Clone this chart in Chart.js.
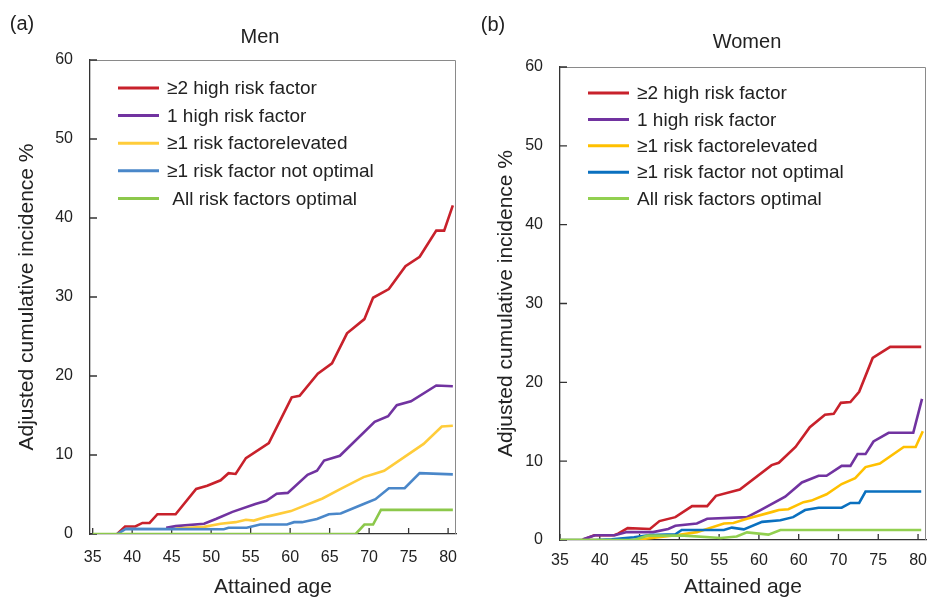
<!DOCTYPE html>
<html>
<head>
<meta charset="utf-8">
<script src="https://cdn.jsdelivr.net/npm/chart.js@4.4.1/dist/chart.umd.min.js"></script>
<style>
  body { margin: 0; background: #fff; }
  .panel { position: absolute; top: 0; width: 464px; height: 600px; }
  #men { left: 0; }
  #women { left: 464px; }
</style>
</head>
<body>
<div class="panel" id="men"><canvas id="menChart"></canvas></div>
<div class="panel" id="women"><canvas id="womenChart"></canvas></div>
<script>
// legend labels (men's last label has a leading space in the original)
const menLabels = ['≥2 high risk factor', '1 high risk factor', '≥1 risk factorelevated', '≥1 risk factor not optimal', ' All risk factors optimal'];
const womenLabels = ['≥2 high risk factor', '1 high risk factor', '≥1 risk factorelevated', '≥1 risk factor not optimal', 'All risk factors optimal'];

const xTicks = [35, 40, 45, 50, 55, 60, 65, 70, 75, 80];
const menXLabels = ['35', '40', '45', '50', '55', '60', '65', '70', '75', '80'];
const womenXLabels = ['35', '40', '45', '50', '55', '60', '60', '70', '75', '80'];
const yTicks = [0, 10, 20, 30, 40, 50, 60];

// [attained age, adjusted cumulative incidence %]
const men2High = [[38.1,0],[39.1,0.95],[40.4,0.95],[41.3,1.4],[42.2,1.4],[43.2,2.5],[45.5,2.5],[48.1,5.7],[49.5,6.1],[51.2,6.8],[52.2,7.7],[53.1,7.6],[54.4,9.6],[57.3,11.5],[60.2,17.3],[61.2,17.5],[63.5,20.3],[65.3,21.6],[67.2,25.4],[69.4,27.2],[70.5,29.9],[72.5,31.0],[74.6,33.9],[76.4,35.1],[78.5,38.4],[79.5,38.4],[80.6,41.6]];
const men1High = [[44.3,0.8],[45.5,1.0],[49.1,1.3],[50.6,1.9],[52.7,2.8],[55.6,3.8],[57.0,4.2],[58.3,5.1],[59.7,5.2],[62.2,7.5],[63.4,8.0],[64.3,9.3],[66.3,9.9],[70.7,14.2],[72.4,14.9],[73.5,16.3],[75.3,16.8],[78.5,18.8],[80.6,18.7]];
const menElevated = [[45.5,0.7],[49.1,0.9],[51.2,1.3],[53.1,1.5],[54.4,1.8],[55.4,1.7],[57.1,2.2],[60.1,2.9],[64.1,4.5],[66.4,5.7],[69.3,7.2],[70.6,7.6],[71.9,8.0],[76.9,11.4],[79.2,13.6],[80.6,13.7]];
const menNotOptimal = [[38.1,0],[39.2,0.65],[51.6,0.6],[52.2,0.8],[54.5,0.8],[56.2,1.2],[59.6,1.2],[60.5,1.5],[61.5,1.5],[63.4,1.9],[64.9,2.5],[66.4,2.6],[69.3,3.8],[70.8,4.4],[72.5,5.8],[74.5,5.8],[76.4,7.7],[80.6,7.55]];
const menOptimal = [[35,0],[68.3,0],[69.4,1.2],[70.5,1.2],[71.5,3.05],[80.6,3.05]];

const women2High = [[37.8,0],[39.3,0.6],[41.8,0.6],[42.3,0.8],[43.5,1.5],[46.3,1.4],[47.5,2.4],[49.5,2.9],[51.6,4.3],[53.5,4.3],[54.6,5.6],[57.6,6.4],[61.6,9.5],[62.5,9.8],[64.6,11.8],[66.4,14.3],[68.3,15.9],[69.4,16.0],[70.3,17.4],[71.5,17.5],[72.6,18.8],[74.3,23.1],[76.5,24.5],[80.4,24.5]];
const women1High = [[37.9,0.1],[39.4,0.6],[41.9,0.6],[43.4,1.0],[46.7,1.0],[48.6,1.4],[49.5,1.8],[52.2,2.1],[53.5,2.7],[58.5,2.9],[60.2,3.8],[63.3,5.5],[65.4,7.3],[67.5,8.15],[68.5,8.15],[70.4,9.4],[71.5,9.4],[72.4,10.9],[73.4,10.9],[74.4,12.5],[76.3,13.6],[79.4,13.6],[80.5,17.9]];
const womenElevated = [[35,0],[44.3,0],[49.6,0.6],[52.2,1.0],[55.6,2.1],[56.8,2.15],[58.5,2.7],[61.8,3.6],[62.5,3.8],[63.7,3.9],[65.6,4.8],[66.6,5.0],[68.5,5.8],[70.4,7.1],[72.1,7.85],[73.4,9.25],[75.2,9.7],[78.2,11.8],[79.7,11.8],[80.6,13.8]];
const womenNotOptimal = [[35,0],[39.5,0],[41.5,0.1],[44.3,0.35],[46.3,0.63],[49.5,0.72],[50.3,1.27],[55.6,1.27],[56.6,1.57],[58.1,1.35],[60.4,2.3],[62.7,2.5],[64.3,2.9],[65.8,3.8],[67.5,4.1],[70.4,4.1],[71.5,4.7],[72.6,4.7],[73.4,6.15],[80.4,6.15]];
const womenOptimal = [[35,0],[44.3,0],[46.0,0.55],[50.6,0.55],[55.2,0.25],[57.2,0.45],[58.5,0.97],[61.2,0.68],[62.7,1.27],[80.4,1.27]];

const menColors = ['#c8212b', '#7133a0', '#ffcc3a', '#4a87c9', '#8cc84b'];
const womenColors = ['#c8212b', '#7133a0', '#ffc000', '#0a70bf', '#92d050'];

const FONT = "'Liberation Sans', Arial, sans-serif";
Chart.defaults.font.family = FONT;
Chart.defaults.color = '#222';

// frame, inward ticks, legend inside the plot, titles
const decor = {
  id: 'decor',
  beforeDatasetsDraw(chart, args, o) {
    const { ctx, chartArea: a, scales: { x, y } } = chart;
    ctx.save();
    ctx.strokeStyle = '#8a8a8a';
    ctx.lineWidth = 1;
    ctx.beginPath();
    ctx.moveTo(a.left, a.top + 0.5);
    ctx.lineTo(a.right - 0.5, a.top + 0.5);
    ctx.lineTo(a.right - 0.5, a.bottom);
    ctx.stroke();
    ctx.strokeStyle = '#333';
    ctx.lineWidth = 1.3;
    ctx.beginPath();
    x.ticks.forEach((t, i) => {
      const px = x.getPixelForTick(i);
      ctx.moveTo(px, a.bottom);
      ctx.lineTo(px, a.bottom - 6);
    });
    y.ticks.forEach((t, i) => {
      const py = y.getPixelForTick(i);
      ctx.moveTo(a.left, py);
      ctx.lineTo(a.left + 7, py);
    });
    ctx.stroke();
    ctx.restore();
  },
  afterDatasetsDraw(chart, args, o) {
    const { ctx, chartArea: a } = chart;
    ctx.save();
    ctx.font = '19px ' + FONT;
    ctx.textBaseline = 'middle';
    ctx.textAlign = 'left';
    chart.data.datasets.forEach((ds, i) => {
      const ry = a.top + o.legendTop + i * o.legendStep;
      ctx.strokeStyle = ds.borderColor;
      ctx.lineWidth = 3;
      ctx.beginPath();
      ctx.moveTo(a.left + 28, ry);
      ctx.lineTo(a.left + 69, ry);
      ctx.stroke();
      ctx.fillStyle = '#222';
      ctx.fillText(ds.label, a.left + 77, ry + 1);
    });
    ctx.textAlign = 'center';
    ctx.font = '20px ' + FONT;
    ctx.fillText(o.panel, o.panelX, o.panelY);
    ctx.fillText(o.title, o.titleX, o.titleY);
    ctx.restore();
  }
};

function makeChart(id, labels, colors, series, xLabels, cfg) {
  const datasets = series.map((s, i) => ({
    label: labels[i],
    data: s.map(([x, y]) => ({ x, y })),
    borderColor: colors[i],
    borderWidth: 2.6,
    pointRadius: 0,
    tension: 0,
    fill: false,
    order: 5 - i
  }));
  return new Chart(document.getElementById(id), {
    type: 'line',
    data: { datasets },
    plugins: [decor],
    options: {
      responsive: true,
      maintainAspectRatio: false,
      animation: false,
      layout: { padding: { left: 0, top: cfg.top, right: cfg.right, bottom: 0 } },
      plugins: {
        legend: { display: false },
        tooltip: { enabled: false },
        decor: cfg.decor
      },
      scales: {
        x: {
          type: 'linear',
          min: cfg.xMin,
          max: cfg.xMax,
          afterBuildTicks: (s) => { s.ticks = xTicks.map(v => ({ value: v })); },
          afterFit: (s) => { s.height = cfg.xHeight; s.paddingLeft = 0; s.paddingRight = 0; },
          ticks: {
            autoSkip: false,
            maxRotation: 0,
            padding: cfg.xPad,
            font: { size: 16 },
            color: '#222',
            callback: (v, i) => xLabels[i]
          },
          grid: { display: true, drawOnChartArea: false, drawTicks: false },
          border: { color: '#333', width: 1.3 },
          title: { display: true, text: 'Attained age', font: { size: 21, lineHeight: 1 }, color: '#222', padding: { top: 0, bottom: 2 } }
        },
        y: {
          min: 0,
          max: 60,
          afterBuildTicks: (s) => { s.ticks = yTicks.map(v => ({ value: v })); },
          afterFit: (s) => { s.width = cfg.yWidth; s.paddingTop = 0; s.paddingBottom = 0; },
          ticks: { padding: cfg.yPad, font: { size: 16 }, color: '#222' },
          grid: { display: true, drawOnChartArea: false, drawTicks: false },
          border: { color: '#333', width: 1.3 },
          title: { display: true, text: 'Adjusted cumulative incidence %', font: { size: 21, lineHeight: 1 }, color: '#222', padding: { top: cfg.yTitlePad, bottom: 0 } }
        }
      }
    }
  });
}

makeChart('menChart', menLabels, menColors,
  [men2High, men1High, menElevated, menNotOptimal, menOptimal], menXLabels,
  { top: 60, right: 8, xMin: 34.66, xMax: 81, xHeight: 66, xPad: 14, yWidth: 90, yPad: 17, yTitlePad: 17,
    decor: { legendTop: 28, legendStep: 27.6, panel: '(a)', panelX: 22, panelY: 24, title: 'Men', titleX: 260, titleY: 37 } });

makeChart('womenChart', womenLabels, womenColors,
  [women2High, women1High, womenElevated, womenNotOptimal, womenOptimal], womenXLabels,
  { top: 67, right: 2, xMin: 35, xMax: 81, xHeight: 60, xPad: 11, yWidth: 96, yPad: 17, yTitlePad: 32,
    decor: { legendTop: 26, legendStep: 26.4, panel: '(b)', panelX: 29, panelY: 25, title: 'Women', titleX: 283, titleY: 42 } });
</script>
</body>
</html>
